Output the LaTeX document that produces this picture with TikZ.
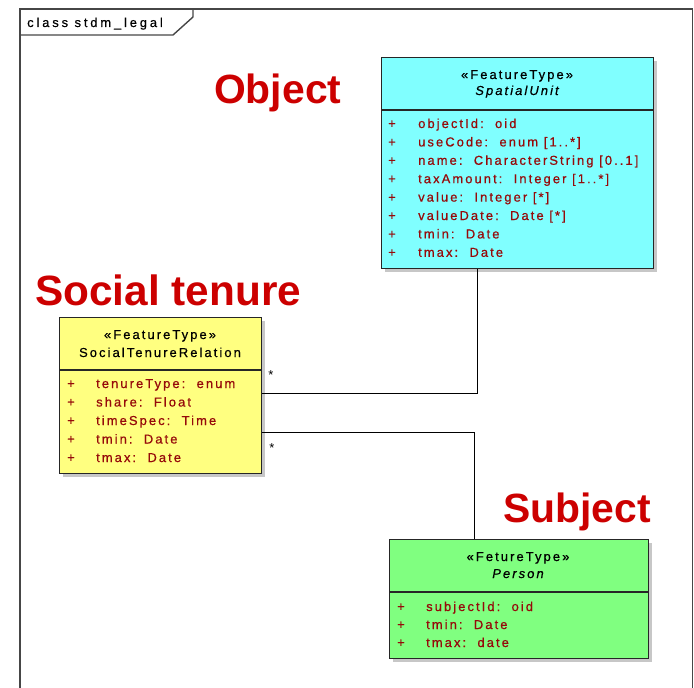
\documentclass[tikz,border=0pt]{standalone}
\usepackage{fontspec}
\setmainfont{Liberation Sans}
\newfontfamily\umlfont[LetterSpace=16,FakeBold=0.6]{Liberation Sans}
\newfontfamily\tabfont[LetterSpace=22,FakeBold=0.4]{Liberation Sans}
\usetikzlibrary{shadows}
\definecolor{attrred}{RGB}{150,10,10}
\definecolor{bigred}{RGB}{204,0,0}
\definecolor{cyanfill}{RGB}{128,255,255}
\definecolor{yellowfill}{RGB}{255,255,128}
\definecolor{greenfill}{RGB}{128,255,128}
\definecolor{framegrey}{RGB}{70,70,70}
\begin{document}
\begin{tikzpicture}[x=1bp,y=-1bp,
  umlbox/.style={draw=black!85, line width=1.2bp, anchor=north west, inner sep=0pt,
    drop shadow={shadow xshift=3bp, shadow yshift=-3bp, fill=black!22, opacity=1}},
  sepline/.style={draw=black!85, line width=1.2bp},
  frameline/.style={draw=framegrey, line width=1.4bp},
  conn/.style={draw=black, line width=1bp},
  attr/.style={anchor=base west, inner sep=0pt, text=attrred, font=\umlfont\fontsize{13}{15}\selectfont},
  hdr/.style={anchor=base, inner sep=0pt, text=black, font=\umlfont\fontsize{13}{15}\selectfont},
  hdrit/.style={hdr, font=\umlfont\itshape\fontsize{13}{15}\selectfont},
  tabtext/.style={anchor=base west, inner sep=0pt, text=black, font=\tabfont\fontsize{13}{15}\selectfont},
  biglabel/.style={anchor=base west, inner sep=0pt, text=bigred, font=\bfseries\fontsize{41}{45}\selectfont},
  mult/.style={inner sep=0pt, text=black, font=\fontsize{13}{14}\selectfont}
]
\useasboundingbox (0,0) rectangle (694,688);

% frame
\draw[frameline] (20,688) -- (20,9) -- (692.5,9) -- (692.5,688);
\draw[frameline] (20,35) -- (173,35) -- (193,17) -- (193,9);
\node[tabtext] (title) at (27,27) {class stdm\_legal};

% big labels
\node[biglabel] (lobj) at (214,104) {Object};
\node[biglabel, font=\bfseries\fontsize{42.5}{46}\selectfont] (lsoc) at (35,305) {Social tenure};
\node[biglabel] (lsub) at (503,522) {Subject};

% SpatialUnit
\node[umlbox, fill=cyanfill, minimum width=272bp, minimum height=211bp] (su) at (381,57) {};
\draw[sepline] (su.west |- 0,110) -- (su.east |- 0,110);
\node[hdr] (suh1) at (517,79) {«FeatureType»};
\node[hdrit] (suh2) at (517,95) {SpatialUnit};
\foreach \t [count=\i] in {{objectId:\ \ oid},{useCode:\ \ enum [1..*]},{name:\ \ CharacterString [0..1]},{taxAmount:\ \ Integer [1..*]},{value:\ \ Integer [*]},{valueDate:\ \ Date [*]},{tmin:\ \ Date},{tmax:\ \ Date}}{
  \node[attr] (sup\i) at (388,{128+18.4*(\i-1)}) {+};
  \node[attr] (sua\i) at (418,{128+18.4*(\i-1)}) {\t};
}

% SocialTenureRelation
\node[umlbox, fill=yellowfill, minimum width=202bp, minimum height=156bp] (str) at (59,317) {};
\draw[sepline] (str.west |- 0,370) -- (str.east |- 0,370);
\node[hdr] (strh1) at (160,339) {«FeatureType»};
\node[hdr] (strh2) at (160,357) {SocialTenureRelation};
\foreach \t [count=\i] in {{tenureType:\ \ enum},{share:\ \ Float},{timeSpec:\ \ Time},{tmin:\ \ Date},{tmax:\ \ Date}}{
  \node[attr] (strp\i) at (67,{388+18.5*(\i-1)}) {+};
  \node[attr] (stra\i) at (96,{388+18.5*(\i-1)}) {\t};
}

% Person
\node[umlbox, fill=greenfill, minimum width=259bp, minimum height=119bp] (person) at (389,539) {};
\draw[sepline] (person.west |- 0,592) -- (person.east |- 0,592);
\node[hdr] (ph1) at (518,561) {«FetureType»};
\node[hdrit] (ph2) at (518,578) {Person};
\foreach \t [count=\i] in {{subjectId:\ \ oid},{tmin:\ \ Date},{tmax:\ \ date}}{
  \node[attr] (pp\i) at (397,{611+18*(\i-1)}) {+};
  \node[attr] (pa\i) at (426,{611+18*(\i-1)}) {\t};
}

% connectors
\coordinate (j1) at (477,393);
\coordinate (j2) at (474,432);
\draw[conn] (su.south -| j1) |- (str.east |- j1);
\draw[conn] (str.east |- j2) -| (person.north -| j2);
\node[mult] (m1) at (271,375) {*};
\node[mult] (m2) at (272,448) {*};
\end{tikzpicture}
\end{document}
